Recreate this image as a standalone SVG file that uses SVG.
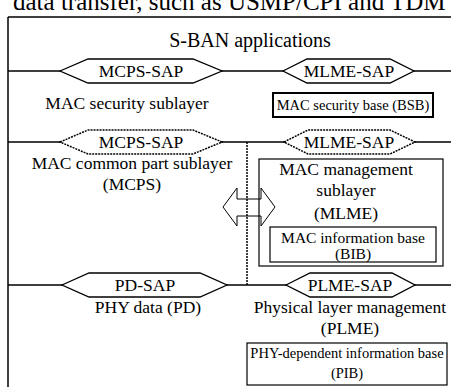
<svg xmlns="http://www.w3.org/2000/svg" width="451" height="387" viewBox="0 0 451 387">
<style>
text{font-family:"Liberation Serif","Times New Roman",serif;fill:#000;text-anchor:middle}
.t{font-size:17.5px}
.s{font-size:14.5px}
.m{font-size:15.5px}
.ln{stroke:#000;stroke-width:1.5;fill:none}
.hex{fill:#fff;stroke:#000;stroke-width:1.3}
.dhex{fill:#fff;stroke:#000;stroke-width:1.5;stroke-dasharray:2 1}
.box{fill:#fff;stroke:#000;stroke-width:1.2}
</style>
<rect width="451" height="387" fill="#fff"/>
<text x="13" y="10" style="font-size:25px;text-anchor:start">data transfer, such as USMP/CPI and TDM</text>
<g id="connectors">
<path class="ln" d="M8,17H451M8,17V387M8,71H451M8,142H451M8,285H451"/>
<path d="M247,142V285" stroke="#000" stroke-width="1.5" stroke-dasharray="2 1" fill="none"/>
</g>
<g id="apps"><text class="t" x="250" y="47" style="font-size:20px">S-BAN applications</text></g>
<g id="mcps-sap1"><polygon class="hex" points="60,71 88,59 193,59 222,71 193,83 88,83"/><text class="t" x="141" y="77">MCPS-SAP</text></g>
<g id="mlme-sap1"><polygon class="hex" points="283,71 307,59 390,59 414,71 390,83 307,83"/><text class="t" x="349" y="77">MLME-SAP</text></g>
<g id="sec"><text class="t" x="127" y="109">MAC security sublayer</text></g>
<g id="bsb"><rect x="273" y="93" width="160" height="24" fill="#fff" stroke="#000" stroke-width="2"/><text class="s" x="353" y="110">MAC security base (BSB)</text></g>
<g id="mcps-sap2"><polygon class="dhex" points="60,142 88,130 193,130 222,142 193,154 88,154"/><text class="t" x="141" y="148">MCPS-SAP</text></g>
<g id="mlme-sap2"><polygon class="dhex" points="284,142 308,130 390,130 415,142 390,154 308,154"/><text class="t" x="349" y="148">MLME-SAP</text></g>
<g id="mcps"><text class="t" x="132" y="169">MAC common part sublayer</text><text class="t" x="132" y="190">(MCPS)</text></g>
<g id="mlme"><rect class="box" x="259" y="159" width="184" height="107"/><text class="t" x="346" y="175">MAC management</text><text class="t" x="346" y="196">sublayer</text><text class="t" x="346" y="219">(MLME)</text></g>
<g id="bib"><rect class="box" x="270" y="227" width="166" height="35"/><text class="m" x="353" y="243">MAC information base</text><text class="m" x="353" y="259">(BIB)</text></g>
<g id="arrow"><polygon points="223,207 237,188 237,199 261,199 261,188 275,207 261,226 261,216 237,216 237,226" fill="none" stroke="#000" stroke-width="1"/></g>
<g id="pd-sap"><polygon class="hex" points="62,285 89,273 200,273 227,285 200,297 89,297"/><text class="t" x="145" y="291">PD-SAP</text></g>
<g id="plme-sap"><polygon class="hex" points="286,285 310,273 392,273 415,285 392,297 310,297"/><text class="t" x="350" y="291">PLME-SAP</text></g>
<g id="pd"><text class="t" x="148" y="313">PHY data (PD)</text></g>
<g id="plme"><text class="t" x="350" y="313">Physical layer management</text><text class="t" x="350" y="334">(PLME)</text></g>
<g id="pib"><rect class="box" x="247" y="343" width="200" height="42"/><text class="s" x="347" y="358">PHY-dependent information base</text><text class="s" x="347" y="378">(PIB)</text></g>
</svg>
